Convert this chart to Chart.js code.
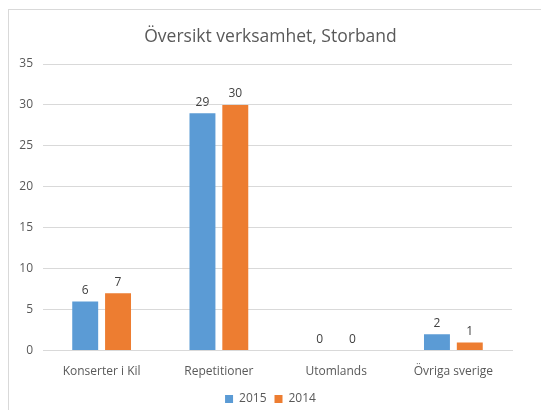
<!DOCTYPE html>
<html><head><meta charset="utf-8">
<script src="https://cdn.jsdelivr.net/npm/chart.js@4"></script>
<style>
html,body{margin:0;padding:0;background:#fff;}
#wrap{position:relative;width:541px;height:410px;overflow:hidden;}
#frame{position:absolute;left:8px;top:9px;width:600px;height:500px;border:1px solid #d9d9d9;box-sizing:border-box;}
canvas{position:absolute;left:0;top:0;}
</style></head>
<body>
<div id="wrap"><div id="frame"></div><canvas id="c" width="541" height="410"></canvas></div>
<script>
const categories = ["Konserter i Kil", "Repetitioner", "Utomlands", "Övriga sverige"];
const values2015 = [6, 29, 0, 2];
const values2014 = [7, 30, 0, 1];
const yTicks = [0, 5, 10, 15, 20, 25, 30, 35];

const labelPlugin = {
  id: 'valueLabels',
  afterLayout(chart) {
    // center title and legend on the whole canvas, as in the reference
    [chart.titleBlock, chart.legend].forEach(b => {
      if (b) { b.left = 0; b.right = chart.width; b.width = chart.width; }
    });
  },
  afterDatasetsDraw(chart) {
    const ctx = chart.ctx;
    ctx.save();
    ctx.font = '12px "Open Sans", Calibri, sans-serif';
    ctx.fillStyle = '#404040';
    ctx.textAlign = 'center';
    ctx.textBaseline = 'bottom';
    chart.data.datasets.forEach((ds, i) => {
      chart.getDatasetMeta(i).data.forEach((bar, j) => {
        ctx.fillText(String(ds.data[j]), bar.x, bar.y - 5);
      });
    });
    ctx.restore();
  }
};

new Chart(document.getElementById('c'), {
  type: 'bar',
  data: {
    labels: categories,
    datasets: [
      { label: '2015', data: values2015, backgroundColor: '#5B9BD5', barPercentage: 0.79, categoryPercentage: 0.56 },
      { label: '2014', data: values2014, backgroundColor: '#ED7D31', barPercentage: 0.79, categoryPercentage: 0.56 }
    ]
  },
  options: {
    responsive: false,
    animation: false,
    devicePixelRatio: 1,
    layout: { padding: { left: 8, right: 29, top: 27, bottom: -5 } },
    plugins: {
      title: {
        display: true,
        text: 'Översikt verksamhet, Storband',
        color: '#595959',
        font: { family: '"Open Sans", Calibri, sans-serif', size: 17.5, weight: 'normal' },
        padding: { top: 0, bottom: 16 }
      },
      legend: {
        position: 'bottom',
        labels: {
          color: '#595959',
          boxWidth: 8, boxHeight: 8,
          font: { family: '"Open Sans", Calibri, sans-serif', size: 12 },
          padding: 8
        }
      },
      tooltip: { enabled: false }
    },
    scales: {
      x: {
        grid: { display: false },
        border: { color: '#d9d9d9' },
        ticks: { color: '#595959', font: { family: '"Open Sans", Calibri, sans-serif', size: 12 }, padding: 6 }
      },
      y: {
        min: 0, max: 35,
        afterBuildTicks(axis) { axis.ticks = yTicks.map(v => ({ value: v })); },
        afterFit(axis) { axis.width = 35; },
        grid: { color: '#d9d9d9', drawTicks: false },
        border: { display: false },
        ticks: { color: '#595959', font: { family: '"Open Sans", Calibri, sans-serif', size: 12 }, padding: 10 }
      }
    }
  },
  plugins: [labelPlugin]
});
</script>
</body></html>
